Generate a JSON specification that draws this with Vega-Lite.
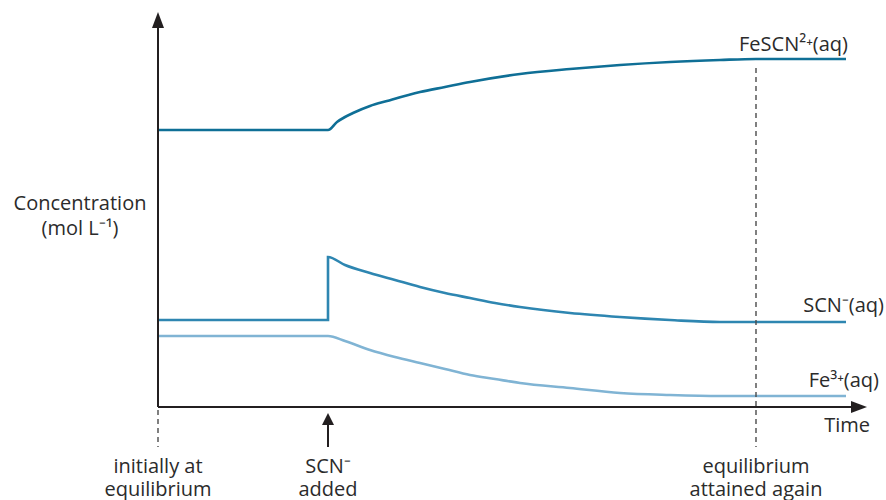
{
  "$schema": "https://vega.github.io/schema/vega-lite/v6.json",
  "width": 886,
  "height": 500,
  "autosize": {"type": "none"},
  "padding": 0,
  "background": "white",
  "config": {"view": {"stroke": null}},
  "datasets": {
    "curves": [
      {"species": "FeSCN", "t": 0, "c": 277},
      {"species": "FeSCN", "t": 170, "c": 277},
      {"species": "FeSCN", "t": 179, "c": 285},
      {"species": "FeSCN", "t": 187, "c": 290},
      {"species": "FeSCN", "t": 195, "c": 294},
      {"species": "FeSCN", "t": 212, "c": 301},
      {"species": "FeSCN", "t": 229, "c": 306},
      {"species": "FeSCN", "t": 262, "c": 315},
      {"species": "FeSCN", "t": 287, "c": 320},
      {"species": "FeSCN", "t": 312, "c": 325},
      {"species": "FeSCN", "t": 362, "c": 333},
      {"species": "FeSCN", "t": 412, "c": 338},
      {"species": "FeSCN", "t": 462, "c": 342},
      {"species": "FeSCN", "t": 512, "c": 345},
      {"species": "FeSCN", "t": 562, "c": 347},
      {"species": "FeSCN", "t": 598, "c": 348},
      {"species": "FeSCN", "t": 688, "c": 348},
      {"species": "SCN", "t": 0, "c": 87},
      {"species": "SCN", "t": 170, "c": 87},
      {"species": "SCN", "t": 170, "c": 150},
      {"species": "SCN", "t": 187, "c": 142},
      {"species": "SCN", "t": 212, "c": 134},
      {"species": "SCN", "t": 237, "c": 127},
      {"species": "SCN", "t": 262, "c": 120},
      {"species": "SCN", "t": 287, "c": 114},
      {"species": "SCN", "t": 312, "c": 109},
      {"species": "SCN", "t": 337, "c": 104},
      {"species": "SCN", "t": 362, "c": 100},
      {"species": "SCN", "t": 412, "c": 94},
      {"species": "SCN", "t": 462, "c": 90},
      {"species": "SCN", "t": 512, "c": 87},
      {"species": "SCN", "t": 562, "c": 85},
      {"species": "SCN", "t": 688, "c": 85},
      {"species": "Fe", "t": 0, "c": 71},
      {"species": "Fe", "t": 170, "c": 71},
      {"species": "Fe", "t": 187, "c": 66},
      {"species": "Fe", "t": 212, "c": 57},
      {"species": "Fe", "t": 237, "c": 50},
      {"species": "Fe", "t": 262, "c": 44},
      {"species": "Fe", "t": 287, "c": 38},
      {"species": "Fe", "t": 312, "c": 32},
      {"species": "Fe", "t": 337, "c": 28},
      {"species": "Fe", "t": 362, "c": 24},
      {"species": "Fe", "t": 412, "c": 19},
      {"species": "Fe", "t": 462, "c": 14},
      {"species": "Fe", "t": 512, "c": 12},
      {"species": "Fe", "t": 562, "c": 11},
      {"species": "Fe", "t": 688, "c": 11}
    ],
    "axes": [
      {"name": "y", "t": 0, "c": 0, "t2": 0, "c2": 387},
      {"name": "x", "t": 0, "c": 0, "t2": 695, "c2": 0},
      {"name": "added", "t": 170, "c": -17, "t2": 170, "c2": -40}
    ],
    "dashes": [
      {"name": "initial", "t": 0, "c": -3, "t2": 0, "c2": -40},
      {"name": "again", "t": 598, "c": 339, "t2": 598, "c2": -40}
    ],
    "heads": [
      {"which": "yaxis", "t": 0, "c": 387},
      {"which": "xaxis", "t": 701, "c": 0},
      {"which": "added", "t": 170, "c": -12}
    ],
    "centerLabels": [
      {"text": "initially at", "t": 0, "c": -66},
      {"text": "equilibrium", "t": 0, "c": -89},
      {"text": "SCN⁻", "t": 170, "c": -66},
      {"text": "added", "t": 170, "c": -89},
      {"text": "equilibrium", "t": 598, "c": -66},
      {"text": "attained again", "t": 598, "c": -89},
      {"text": "Concentration", "t": -78, "c": 197},
      {"text": "(mol L⁻¹)", "t": -78, "c": 172}
    ],
    "rightLabels": [
      {"text": "FeSCN²⁺(aq)", "t": 690, "c": 356},
      {"text": "SCN⁻(aq)", "t": 726, "c": 95},
      {"text": "Fe³⁺(aq)", "t": 721, "c": 20},
      {"text": "Time", "t": 712, "c": -25}
    ]
  },
  "layer": [
    {
      "data": {"name": "curves"},
      "mark": {"type": "line", "strokeWidth": 2.6, "strokeCap": "butt", "strokeJoin": "miter", "interpolate": "monotone"},
      "encoding": {
        "x": {"field": "t", "type": "quantitative", "scale": {"domain": [-158, 728], "nice": false, "zero": false}, "axis": null},
        "y": {"field": "c", "type": "quantitative", "scale": {"domain": [-93, 407], "nice": false, "zero": false}, "axis": null},
        "color": {"field": "species", "type": "nominal", "scale": {"domain": ["FeSCN", "SCN", "Fe"], "range": ["#0f6f96", "#2e86b1", "#80b4d4"]}, "legend": null},
        "order": {"field": "t"}
      }
    },
    {
      "data": {"name": "dashes"},
      "mark": {"type": "rule", "color": "#4a4a4a", "strokeWidth": 1.4, "strokeDash": [5, 4]},
      "encoding": {
        "x": {"field": "t", "type": "quantitative"},
        "y": {"field": "c", "type": "quantitative"},
        "x2": {"field": "t2"},
        "y2": {"field": "c2"}
      }
    },
    {
      "data": {"name": "axes"},
      "mark": {"type": "rule", "color": "#231f20", "strokeWidth": 2},
      "encoding": {
        "x": {"field": "t", "type": "quantitative"},
        "y": {"field": "c", "type": "quantitative"},
        "x2": {"field": "t2"},
        "y2": {"field": "c2"}
      }
    },
    {
      "data": {"name": "heads"},
      "transform": [{"filter": "datum.which === 'yaxis'"}],
      "mark": {"type": "point", "shape": "M0,-1L0.75,1L-0.75,1Z", "size": 256, "filled": true, "color": "#231f20", "opacity": 1},
      "encoding": {
        "x": {"field": "t", "type": "quantitative"},
        "y": {"field": "c", "type": "quantitative"}
      }
    },
    {
      "data": {"name": "heads"},
      "transform": [{"filter": "datum.which === 'xaxis'"}],
      "mark": {"type": "point", "shape": "M1,0L-1,0.75L-1,-0.75Z", "size": 256, "filled": true, "color": "#231f20", "opacity": 1},
      "encoding": {
        "x": {"field": "t", "type": "quantitative"},
        "y": {"field": "c", "type": "quantitative"}
      }
    },
    {
      "data": {"name": "heads"},
      "transform": [{"filter": "datum.which === 'added'"}],
      "mark": {"type": "point", "shape": "M0,-1L1,1L-1,1Z", "size": 144, "filled": true, "color": "#231f20", "opacity": 1},
      "encoding": {
        "x": {"field": "t", "type": "quantitative"},
        "y": {"field": "c", "type": "quantitative"}
      }
    },
    {
      "data": {"name": "centerLabels"},
      "mark": {"type": "text", "align": "center", "baseline": "alphabetic", "font": "Open Sans", "fontSize": 20, "color": "#2b2b2b"},
      "encoding": {
        "x": {"field": "t", "type": "quantitative"},
        "y": {"field": "c", "type": "quantitative"},
        "text": {"field": "text"}
      }
    },
    {
      "data": {"name": "rightLabels"},
      "mark": {"type": "text", "align": "right", "baseline": "alphabetic", "font": "Open Sans", "fontSize": 20, "color": "#2b2b2b"},
      "encoding": {
        "x": {"field": "t", "type": "quantitative"},
        "y": {"field": "c", "type": "quantitative"},
        "text": {"field": "text"}
      }
    }
  ]
}
